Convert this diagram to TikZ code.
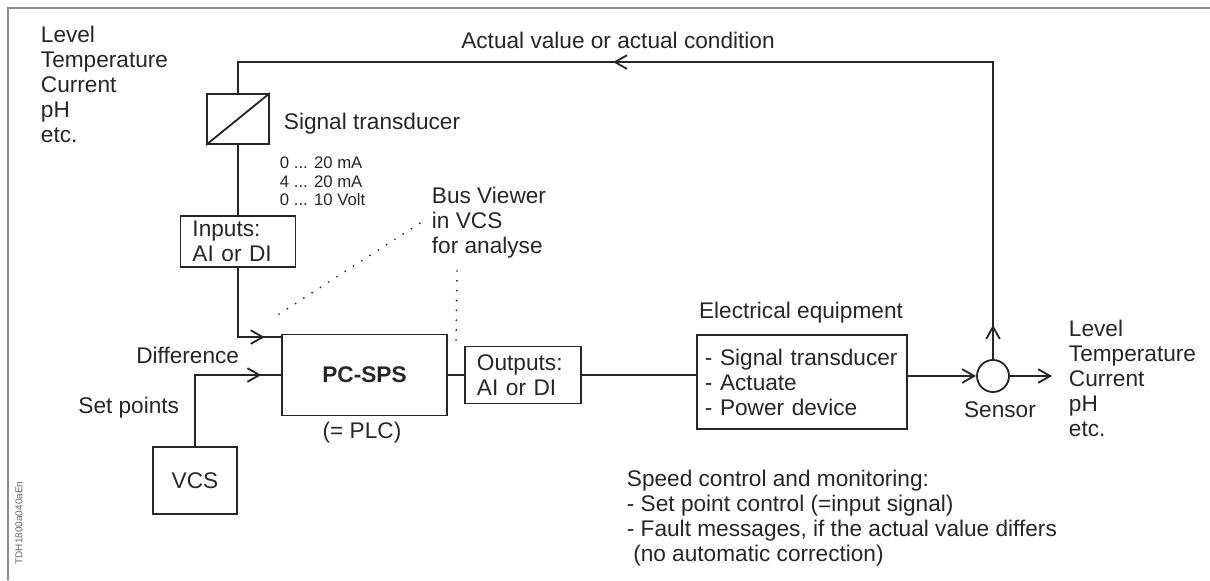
\documentclass[tikz,border=0pt]{standalone}
\usepackage{fontspec}
\setmainfont{Liberation Sans}
\usetikzlibrary{arrows.meta,calc,decorations.markings}

\begin{document}
\begin{tikzpicture}[x = 0.025cm, y = -0.025cm, line width = 1.3pt,
  draw = black!85, text = black!85,
  font = \fontsize{16.1}{17.8}\selectfont,
  barb/.tip = {Straight Barb[length = 3mm, width = 3.4mm]},
  box/.style = {draw, line width = 1.3pt, inner sep = 0pt},
  txtbox/.style = {box, align = left, inner xsep = 0.3cm},
  lbl/.style = {inner sep = 0pt, align = left},
  dots/.style = {line width = 1.4pt, line cap = round, dash pattern = on 0pt off 7pt},
  frame/.style = {draw = black!45, line width = 1pt},
  midtip/.style = {postaction = {decorate, decoration = {markings, mark = at position #1 with {\arrow{barb}}}}}]
\useasboundingbox (0,0) rectangle (1210,580);
\draw[frame] (8,580) -- (8,8) -- (1210,8);
% blocks
\node[box, minimum width = 1.55cm, minimum height = 1.25cm] (trans) at (238,119) {};
\draw (trans.south west) -- (trans.north east);
\node[txtbox, text width = 2.275cm, minimum height = 1.275cm] (inp) at (238,241.5) {Inputs:\\AI or DI};
\node[box, minimum width = 4.125cm, minimum height = 2.025cm, font = \fontsize{16.1}{17.8}\selectfont\bfseries] (pcs) at (364.5,375) {PC-SPS};
\node[txtbox, text width = 2.3cm, minimum height = 1.425cm] (out) at (523,375) {Outputs:\\AI or DI};
\node[txtbox, inner xsep = 0.2cm, text width = 4.85cm, minimum height = 2.35cm] (elec) at (802,382) {- Signal transducer\\- Actuate\\- Power device};
\node[box, minimum width = 2.1cm, minimum height = 1.675cm] (vcs) at (195,480.5) {VCS};
\node[box, circle, minimum size = 0.8cm] (sens) at (993,376) {};
\coordinate (meas) at (1052,376);
% texts
\node[lbl, anchor = west] (lvlin) at (40,84) {Level\\Temperature\\Current\\pH\\etc.};
\node[lbl] (act) at (618,40) {Actual value or actual condition};
\node[lbl, anchor = west] (translbl) at (283,124) {Signal transducer};
\node[lbl, anchor = west, font = \fontsize{11.9}{13.2}\selectfont] (rng) at (279,181.5) {0 ... 20 mA\\4 ... 20 mA\\0 ... 10 Volt};
\node[lbl, anchor = west] (bus) at (431,222.5) {Bus Viewer\\in VCS\\for analyse};
\node[lbl, anchor = east] (diff) at (240,355) {Difference};
\node[lbl, anchor = east] (setp) at (180,408) {Set points};
\node[lbl] (plc) at (362,433) {(= PLC)};
\node[lbl] (eqlbl) at (801,313) {Electrical equipment};
\node[lbl] (senslbl) at (1000,410) {Sensor};
\node[lbl, anchor = west] (lvlout) at (1068,378) {Level\\Temperature\\Current\\pH\\etc.};
\node[lbl, anchor = west] (notes) at (626,518) {Speed control and monitoring:\\- Set point control (=input signal)\\- Fault messages, if the actual value differs\\\hspace*{0.28em}(no automatic correction)};
\node[lbl, rotate = 90, font = \fontsize{7.1}{8}\selectfont, text = black!60] (code) at (19,523) {TDH1800a040aEn};
% connectors
\draw[midtip = 0.0314, midtip = 0.625] (sens.north) |- ($(trans.north)+(0,-31)$) -- (trans.north);
\draw (trans.south) -- (inp.north);
\draw[midtip = 0.853] (inp.south) |- ($(pcs.north west)+(0,3.5)$);
\draw[midtip = 0.874] (vcs.north) |- (pcs.west);
\draw (pcs) -- (out);
\draw (out.east) -- (out.east -| elec.west);
\draw[-{barb}] (sens.west -| elec.east) -- (sens.west);
\draw[-{barb}] (sens.east) -- (meas);
\draw[dots] ($(pcs.north west)+(-2,-19.5)$) -- ($(bus.west)+(-10,0)$);
\draw[dots] ($(bus.south west)+(26,12)$) -- ($(out.north west)+(-8,-4.5)$);
\end{tikzpicture}
\end{document}
